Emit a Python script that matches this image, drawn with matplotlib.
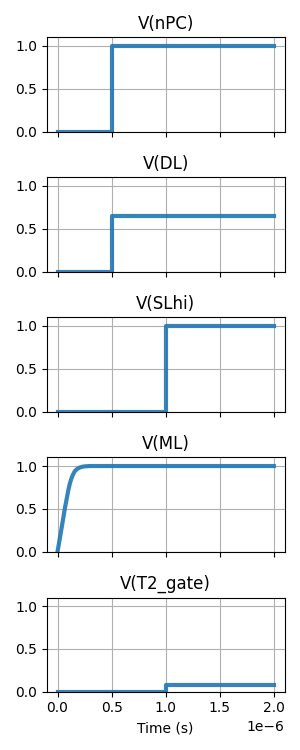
import numpy as np
import matplotlib
matplotlib.use("Agg")
from matplotlib import pyplot as plt

# ------------------
# data (time in seconds)
# ------------------
titles = ["V(nPC)", "V(DL)", "V(SLhi)", "V(ML)", "V(T2_gate)"]

t_npc = [0.0, 0.5e-6, 0.5e-6, 2.0e-6]
v_npc = [0.0, 0.0, 1.0, 1.0]

t_dl = [0.0, 0.5e-6, 0.5e-6, 2.0e-6]
v_dl = [0.0, 0.0, 0.65, 0.65]

t_slhi = [0.0, 1.0e-6, 1.0e-6, 2.0e-6]
v_slhi = [0.0, 0.0, 1.0, 1.0]

t_ml = [0.0, 0.015e-6, 0.03e-6, 0.05e-6, 0.067e-6, 0.085e-6, 0.1e-6, 0.115e-6,
        0.13e-6, 0.145e-6, 0.16e-6, 0.18e-6, 0.2e-6, 0.225e-6, 0.25e-6, 0.3e-6, 2.0e-6]
v_ml = [0.0, 0.11, 0.22, 0.37, 0.50, 0.62, 0.72, 0.80,
        0.86, 0.905, 0.94, 0.965, 0.98, 0.99, 0.996, 1.0, 1.0]

t_t2 = [0.0, 1.0e-6, 1.0e-6, 2.0e-6]
v_t2 = [0.0, 0.0, 0.08, 0.08]

series = [(t_npc, v_npc), (t_dl, v_dl), (t_slhi, v_slhi), (t_ml, v_ml), (t_t2, v_t2)]


def main():
	fig, axes = plt.subplots(5, 1, figsize=(3, 7.5), dpi=100, sharex=True)
	for ax, title, (t, v) in zip(axes, titles, series):
		ax.plot(t, v, color="#1f77b4", alpha=0.9, linewidth=3)
		ax.set_title(title)
		ax.set_ylim(0, 1.1)
		ax.set_yticks([0.0, 0.5, 1.0])
		ax.grid(True)
	axes[-1].set_xticks([0.0, 0.5e-6, 1.0e-6, 1.5e-6, 2.0e-6])
	axes[-1].set_xlabel("Time (s)")
	fig.tight_layout()
	fig.savefig("out.png")
	plt.close(fig)


if __name__ == "__main__":
	main()
